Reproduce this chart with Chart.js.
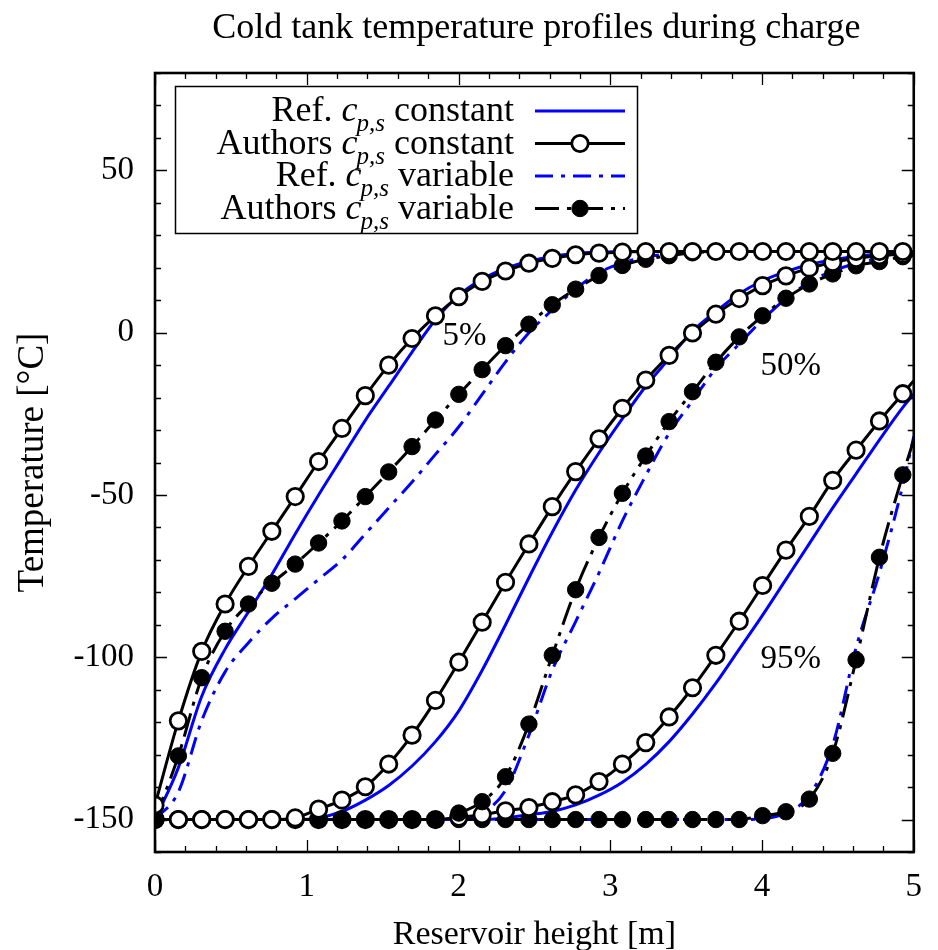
<!DOCTYPE html>
<html><head><meta charset="utf-8">
<script src="https://cdn.jsdelivr.net/npm/chart.js@4/dist/chart.umd.min.js"></script>
<style>html,body{margin:0;padding:0;background:#fff;}#wrap{width:938px;height:950px;}</style>
</head><body><div id="wrap"><canvas id="c" width="938" height="950"></canvas></div>
<script>
// ---------- data ----------
const xs = [0, 0.154, 0.308, 0.462, 0.616, 0.770, 0.924, 1.078, 1.232, 1.386, 1.540, 1.694, 1.848, 2.002, 2.156, 2.310, 2.464, 2.618, 2.772, 2.926, 3.080, 3.234, 3.388, 3.542, 3.696, 3.850, 4.004, 4.158, 4.312, 4.466, 4.620, 4.774, 4.928, 5.0];

const refConst5  = [-150, -134, -112, -97.5, -86, -74.5, -62, -50, -38.5, -27, -16.5, -6, 4, 11.5, 16.5, 19.8, 22, 23.5, 24.4, 24.8, 25, 25, 25, 25, 25, 25, 25, 25, 25, 25, 25, 25, 25, 25];
const authConst5 = [-145.5, -119.6, -98.2, -83.6, -72.0, -61.2, -50.5, -39.7, -29.5, -19.4, -10.0, -1.8, 5.2, 11.1, 15.8, 19.0, 21.4, 22.9, 24.0, 24.5, 24.8, 25, 25, 25, 25, 25, 25, 25, 25, 25, 25, 25, 25, 25];
const refVar5    = [-150, -141.5, -119.5, -104.5, -95.5, -88, -82, -76, -70, -62, -54, -46, -37.5, -29, -19, -9, 0, 7, 13.5, 18.5, 21.5, 23.3, 24.3, 24.8, 25, 25, 25, 25, 25, 25, 25, 25, 25, 25];
const authVar5   = [-150, -130.4, -106.3, -92.0, -83.6, -77.2, -71.3, -64.8, -58.0, -50.5, -42.9, -35.1, -26.9, -19.0, -11.4, -4.0, 2.6, 8.6, 13.4, 17.6, 20.7, 22.6, 23.7, 24.6, 25, 25, 25, 25, 25, 25, 25, 25, 25, 25];

const refConst50  = [-150, -150, -150, -150, -150, -150, -150, -149.5, -147.5, -144, -139.5, -133.5, -126, -116.5, -104, -90, -75.5, -61.5, -48.5, -37, -26.5, -16.5, -8, 0.5, 6.5, 12, 16, 18.8, 21, 22.5, 23.5, 24.2, 24.6, 24.8];
const authConst50 = [-150, -150, -150, -150, -150, -150, -149.5, -146.8, -144, -139.9, -132.9, -124.0, -113.3, -101.5, -89.2, -76.9, -65.1, -53.6, -42.8, -32.7, -23.3, -14.6, -7.0, -0.1, 5.7, 10.5, 14.5, 17.5, 19.9, 21.6, 22.9, 23.7, 24.2, 24.4];
const refVar50    = [-150, -150, -150, -150, -150, -150, -150, -150, -150, -150, -150, -150, -150, -150, -148, -141, -124, -104, -89, -74, -58, -44, -31, -21, -11, -3.5, 4, 10.5, 15.5, 19, 21.3, 22.8, 23.7, 24];
const authVar50   = [-150, -150, -150, -150, -150, -150, -150, -150, -150, -150, -150, -150, -150, -148, -144.5, -136.8, -120.6, -99.4, -79.2, -63.1, -49.5, -38.0, -27.4, -18.2, -9.1, -1.3, 5.2, 10.6, 15.0, 18.1, 20.6, 21.9, 23.4, 23.8];

const refConst95  = [-150, -150, -150, -150, -150, -150, -150, -150, -150, -150, -150, -150, -150, -150, -150, -149.5, -148.5, -147.5, -145.5, -142.5, -138.5, -133, -126, -117.5, -108, -97.5, -87, -76, -65, -54, -43.5, -33, -23, -19];
const authConst95 = [-150, -150, -150, -150, -150, -150, -150, -150, -150, -150, -150, -150, -150, -149.3, -148.5, -147.3, -146.3, -144.5, -142.4, -138.3, -132.9, -126.3, -118.4, -109.4, -99.4, -88.9, -77.9, -67.0, -56.6, -45.5, -36.2, -27.2, -18.8, -14.8];
const refVar95    = [-150, -150, -150, -150, -150, -150, -150, -150, -150, -150, -150, -150, -150, -150, -150, -150, -150, -150, -150, -150, -150, -150, -150, -150, -150, -150, -149.7, -148, -142.5, -127, -97, -74, -47, -32];
const authVar95   = [-150, -150, -150, -150, -150, -150, -150, -150, -150, -150, -150, -150, -150, -150, -150, -150, -150, -150, -150, -150, -150, -150, -150, -150, -150, -150, -148.8, -147.6, -143.7, -129.6, -100.8, -69.2, -43.8, -33];

const xTickValues = [0, 1, 2, 3, 4, 5];
const yTickValues = [-150, -100, -50, 0, 50];
const legendPre  = ['Ref.', 'Authors', 'Ref.', 'Authors'];
const legendPost = ['constant', 'constant', 'variable', 'variable'];
const legendSub  = 'p,s';
const annotations = [
  {text: '5%',  x: 2.04, y: -1},
  {text: '50%', x: 4.19, y: -10.5},
  {text: '95%', x: 4.19, y: -100.5}
];
const titleText = 'Cold tank temperature profiles during charge';
const xTitle = 'Reservoir height [m]';
const yTitle = 'Temperature [°C]';

// ---------- styles ----------
const FONT = '"Liberation Serif", "Times New Roman", serif';
const BLUE = '#0000ff';
const LW = 3;
const MR = 8.2;
const styles = {
  refConst:  {borderColor: BLUE, borderWidth: LW, borderDash: [], pointRadius: 0, order: 3},
  refVar:    {borderColor: BLUE, borderWidth: LW, borderDash: [18, 8, 4, 8], pointRadius: 0, order: 3},
  authConst: {borderColor: '#000', borderWidth: LW, borderDash: [], pointStyle: 'circle', pointBackgroundColor: '#fff', pointBorderColor: '#000', pointBorderWidth: 2.8, order: 1},
  authVar:   {borderColor: '#000', borderWidth: LW, borderDash: [24, 8, 4, 8], pointStyle: 'circle', pointBackgroundColor: '#000', pointBorderColor: '#000', pointBorderWidth: 1, order: 1}
};
const markerR = xs.map((x, i) => i === xs.length - 1 ? 0 : MR);

function ds(label, ys, kind) {
  const s = styles[kind];
  const d = Object.assign({label: label, data: xs.map((x, i) => ({x: x, y: ys[i]})), fill: false,
    cubicInterpolationMode: 'monotone', tension: 0.4, pointHoverRadius: 0}, s);
  if (kind === 'authConst' || kind === 'authVar') d.pointRadius = markerR;
  return d;
}

const datasets = [
  ds('Ref const 5%', refConst5, 'refConst'),
  ds('Ref var 5%', refVar5, 'refVar'),
  ds('Ref const 50%', refConst50, 'refConst'),
  ds('Ref var 50%', refVar50, 'refVar'),
  ds('Ref const 95%', refConst95, 'refConst'),
  ds('Ref var 95%', refVar95, 'refVar'),
  ds('Authors const 5%', authConst5, 'authConst'),
  ds('Authors var 5%', authVar5, 'authVar'),
  ds('Authors const 50%', authConst50, 'authConst'),
  ds('Authors var 50%', authVar50, 'authVar'),
  ds('Authors const 95%', authConst95, 'authConst'),
  ds('Authors var 95%', authVar95, 'authVar')
];

// ---------- decoration plugin ----------
const deco = {
  id: 'deco',
  afterDatasetsDraw(chart) {
    const ctx = chart.ctx, a = chart.chartArea;
    const xs_ = chart.scales.x, ys_ = chart.scales.y;
    ctx.save();
    // ticks inward on all four sides
    ctx.strokeStyle = '#000'; ctx.lineWidth = 1.3;
    for (let v = 0; v <= 5.0001; v += 0.2) {
      const px = Math.round(xs_.getPixelForValue(v)) + 0.5;
      const major = Math.abs(v - Math.round(v)) < 1e-6;
      const L = major ? 12 : 6;
      ctx.beginPath(); ctx.moveTo(px, a.bottom); ctx.lineTo(px, a.bottom - L);
      ctx.moveTo(px, a.top); ctx.lineTo(px, a.top + L); ctx.stroke();
    }
    for (let v = -160; v <= 80; v += 10) {
      const py = Math.round(ys_.getPixelForValue(v)) + 0.5;
      const major = v % 50 === 0;
      const L = major ? 12 : 6;
      ctx.beginPath(); ctx.moveTo(a.left, py); ctx.lineTo(a.left + L, py);
      ctx.moveTo(a.right, py); ctx.lineTo(a.right - L, py); ctx.stroke();
    }
    // frame
    ctx.lineWidth = 2.6;
    ctx.strokeRect(a.left, a.top, a.right - a.left, a.bottom - a.top);

    // title
    ctx.fillStyle = '#000';
    ctx.font = '36px ' + FONT;
    ctx.textAlign = 'center'; ctx.textBaseline = 'alphabetic';
    ctx.fillText(titleText, (a.left + a.right) / 2 + 2, 38);

    // annotations
    annotations.forEach(an => {
      ctx.font = '33px ' + FONT;
      ctx.textAlign = 'center'; ctx.textBaseline = 'middle';
      ctx.fillText(an.text, xs_.getPixelForValue(an.x), ys_.getPixelForValue(an.y));
    });

    // legend
    const bx = 175, by = 86, bw = 462, bh = 147;
    ctx.fillStyle = '#fff'; ctx.fillRect(bx, by, bw, bh);
    ctx.strokeStyle = '#000'; ctx.lineWidth = 1.5; ctx.strokeRect(bx + 0.5, by + 0.5, bw, bh);
    const rowsY = [111, 143.5, 176, 208.5];
    const kinds = ['refConst', 'authConst', 'refVar', 'authVar'];
    const textRight = 514;
    const mainFont = '36px ' + FONT, itFont = 'italic 36px ' + FONT, subFont = 'italic 25px ' + FONT;
    for (let r = 0; r < 4; r++) {
      const cy = rowsY[r];
      const base = cy + 10;
      ctx.fillStyle = '#000'; ctx.textBaseline = 'alphabetic'; ctx.textAlign = 'left';
      ctx.font = mainFont;
      const sp = ctx.measureText(' ').width;
      const wPost = ctx.measureText(legendPost[r]).width;
      const wPre = ctx.measureText(legendPre[r]).width;
      ctx.font = subFont; const wSub = ctx.measureText(legendSub).width;
      ctx.font = itFont; const wc = ctx.measureText('c').width;
      const xPost = textRight - wPost;
      const xSub = xPost - sp - wSub;
      const xc = xSub - wc + 1;
      const xPre = xc - sp - wPre;
      ctx.font = mainFont; ctx.fillText(legendPost[r], xPost, base); ctx.fillText(legendPre[r], xPre, base);
      ctx.font = itFont; ctx.fillText('c', xc, base);
      ctx.font = subFont; ctx.fillText(legendSub, xSub, base + 10);
      // sample
      const s = styles[kinds[r]];
      ctx.strokeStyle = s.borderColor; ctx.lineWidth = s.borderWidth;
      ctx.setLineDash(s.borderDash);
      ctx.beginPath(); ctx.moveTo(535, cy); ctx.lineTo(625, cy); ctx.stroke();
      ctx.setLineDash([]);
      if (kinds[r] === 'authConst' || kinds[r] === 'authVar') {
        ctx.beginPath(); ctx.arc(580, cy, MR, 0, Math.PI * 2);
        ctx.fillStyle = s.pointBackgroundColor; ctx.fill();
        ctx.lineWidth = s.pointBorderWidth; ctx.strokeStyle = '#000'; ctx.stroke();
      }
    }
    ctx.restore();
  }
};

new Chart(document.getElementById('c'), {
  type: 'line',
  data: {datasets: datasets},
  options: {
    responsive: false, animation: false, devicePixelRatio: 1,
    layout: {padding: {top: 73, right: 20, left: 0, bottom: 0}},
    plugins: {legend: {display: false}, title: {display: false}, tooltip: {enabled: false}},
    events: [],
    scales: {
      x: {
        type: 'linear', min: 0, max: 5,
        grid: {display: false, drawTicks: false}, border: {display: false},
        afterBuildTicks: s => { s.ticks = xTickValues.map(v => ({value: v})); },
        afterFit: s => { s.height = 98; },
        ticks: {font: {family: FONT, size: 33}, color: '#000', padding: 16, maxRotation: 0, autoSkip: false},
        title: {display: true, text: xTitle, color: '#000', font: {family: FONT, size: 34, lineHeight: 0.9}, padding: {top: 0, bottom: 0}}
      },
      y: {
        type: 'linear', min: -160, max: 80,
        grid: {display: false, drawTicks: false}, border: {display: false},
        afterBuildTicks: s => { s.ticks = yTickValues.map(v => ({value: v})); },
        afterFit: s => { s.width = 155; },
        ticks: {font: {family: FONT, size: 33}, color: '#000', padding: 21, autoSkip: false},
        title: {display: true, text: yTitle, color: '#000', font: {family: FONT, size: 37, lineHeight: 0.9}, padding: {top: 17, bottom: 0}}
      }
    }
  },
  plugins: [deco]
});
</script></body></html>
